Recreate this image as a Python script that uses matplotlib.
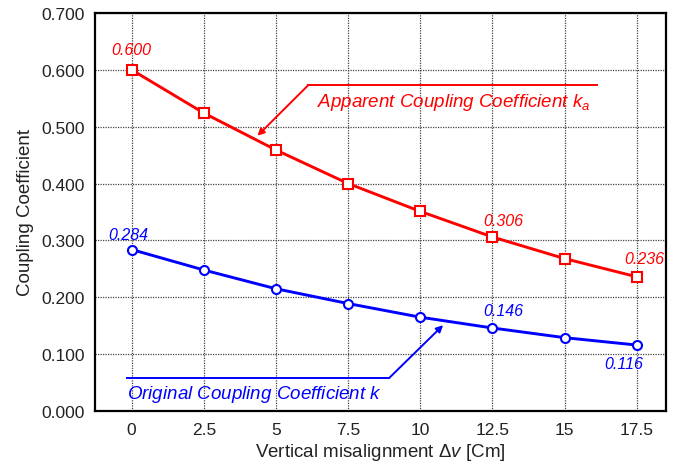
import numpy as np
import matplotlib.pyplot as plt

plt.rcParams['font.family'] = ['Liberation Sans', 'DejaVu Sans']
plt.rcParams['mathtext.fontset'] = 'custom'
plt.rcParams['mathtext.rm'] = 'Liberation Sans'
plt.rcParams['mathtext.it'] = 'Liberation Sans:italic'

# vertical misalignment [cm]
dv = [0, 2.5, 5, 7.5, 10, 12.5, 15, 17.5]
# apparent coupling coefficient k_a
k_app = [0.600, 0.524, 0.459, 0.400, 0.351, 0.306, 0.268, 0.236]
# original coupling coefficient k
k_orig = [0.284, 0.248, 0.215, 0.189, 0.165, 0.146, 0.129, 0.116]

xticks = [0, 2.5, 5, 7.5, 10, 12.5, 15, 17.5]
xticklabels = ['0', '2.5', '5', '7.5', '10', '12.5', '15', '17.5']
yticks = [0.0, 0.1, 0.2, 0.3, 0.4, 0.5, 0.6, 0.7]

red = '#ff0000'
blue = '#0000ff'

fig = plt.figure(figsize=(6.87, 4.64), dpi=100)
ax = fig.add_axes([0.139, 0.112, 0.830, 0.858])

ax.plot(dv, k_app, color=red, lw=2.1, marker='s', ms=6.5, mfc='white',
        mec=red, mew=1.5, zorder=3)
ax.plot(dv, k_orig, color=blue, lw=2.1, marker='o', ms=6.5, mfc='white',
        mec=blue, mew=1.5, zorder=3)

ax.set_xlim(-1.25, 18.5)
ax.set_ylim(0, 0.7)
ax.set_xticks(xticks)
ax.set_xticklabels(xticklabels)
ax.set_yticks(yticks)
ax.set_yticklabels([f'{v:.3f}' for v in yticks])
ax.tick_params(length=0, labelsize=12.5, pad=8, labelcolor='#222222')
ax.grid(True, color='#444444', lw=0.9, linestyle=(0, (1, 1)))
ax.set_axisbelow(True)
for s in ax.spines.values():
    s.set_linewidth(1.6)

ax.set_xlabel(r'Vertical misalignment $\Delta v$ [Cm]', fontsize=13.5,
              labelpad=3, color='#222222')
ax.set_ylabel('Coupling Coefficient', fontsize=13.5, labelpad=5,
              color='#222222')

# value labels on selected points
lab_kw = dict(textcoords='offset pixels', ha='center', va='center',
              fontsize=11.5, style='italic')
for i, off in [(0, (0, 20)), (5, (11, 17)), (7, (7, 18))]:
    ax.annotate(f'{k_app[i]:.3f}', (dv[i], k_app[i]), xytext=off,
                color=red, **lab_kw)
for i, off in [(0, (-3, 15)), (5, (11, 17)), (7, (-13, -18))]:
    ax.annotate(f'{k_orig[i]:.3f}', (dv[i], k_orig[i]), xytext=off,
                color=blue, **lab_kw)

# leader lines for the curve names
ax.plot([6.12, 16.11], [0.573, 0.573], color=red, lw=1.4)
ax.annotate('', xy=(4.36, 0.484), xytext=(6.12, 0.573),
            arrowprops=dict(arrowstyle='-|>', color=red, lw=1.4,
                            mutation_scale=10, shrinkA=0, shrinkB=0))
ax.text(6.43, 0.545, r'Apparent Coupling Coefficient $k_a$', color=red,
        fontsize=13.5, style='italic', va='center', ha='left')

ax.plot([-0.17, 8.92], [0.058, 0.058], color=blue, lw=1.4)
ax.annotate('', xy=(10.79, 0.151), xytext=(8.92, 0.058),
            arrowprops=dict(arrowstyle='-|>', color=blue, lw=1.4,
                            mutation_scale=10, shrinkA=0, shrinkB=0))
ax.text(-0.15, 0.031, r'Original Coupling Coefficient $k$', color=blue,
        fontsize=13.5, style='italic', va='center', ha='left')

fig.savefig('out.png', dpi=100)
